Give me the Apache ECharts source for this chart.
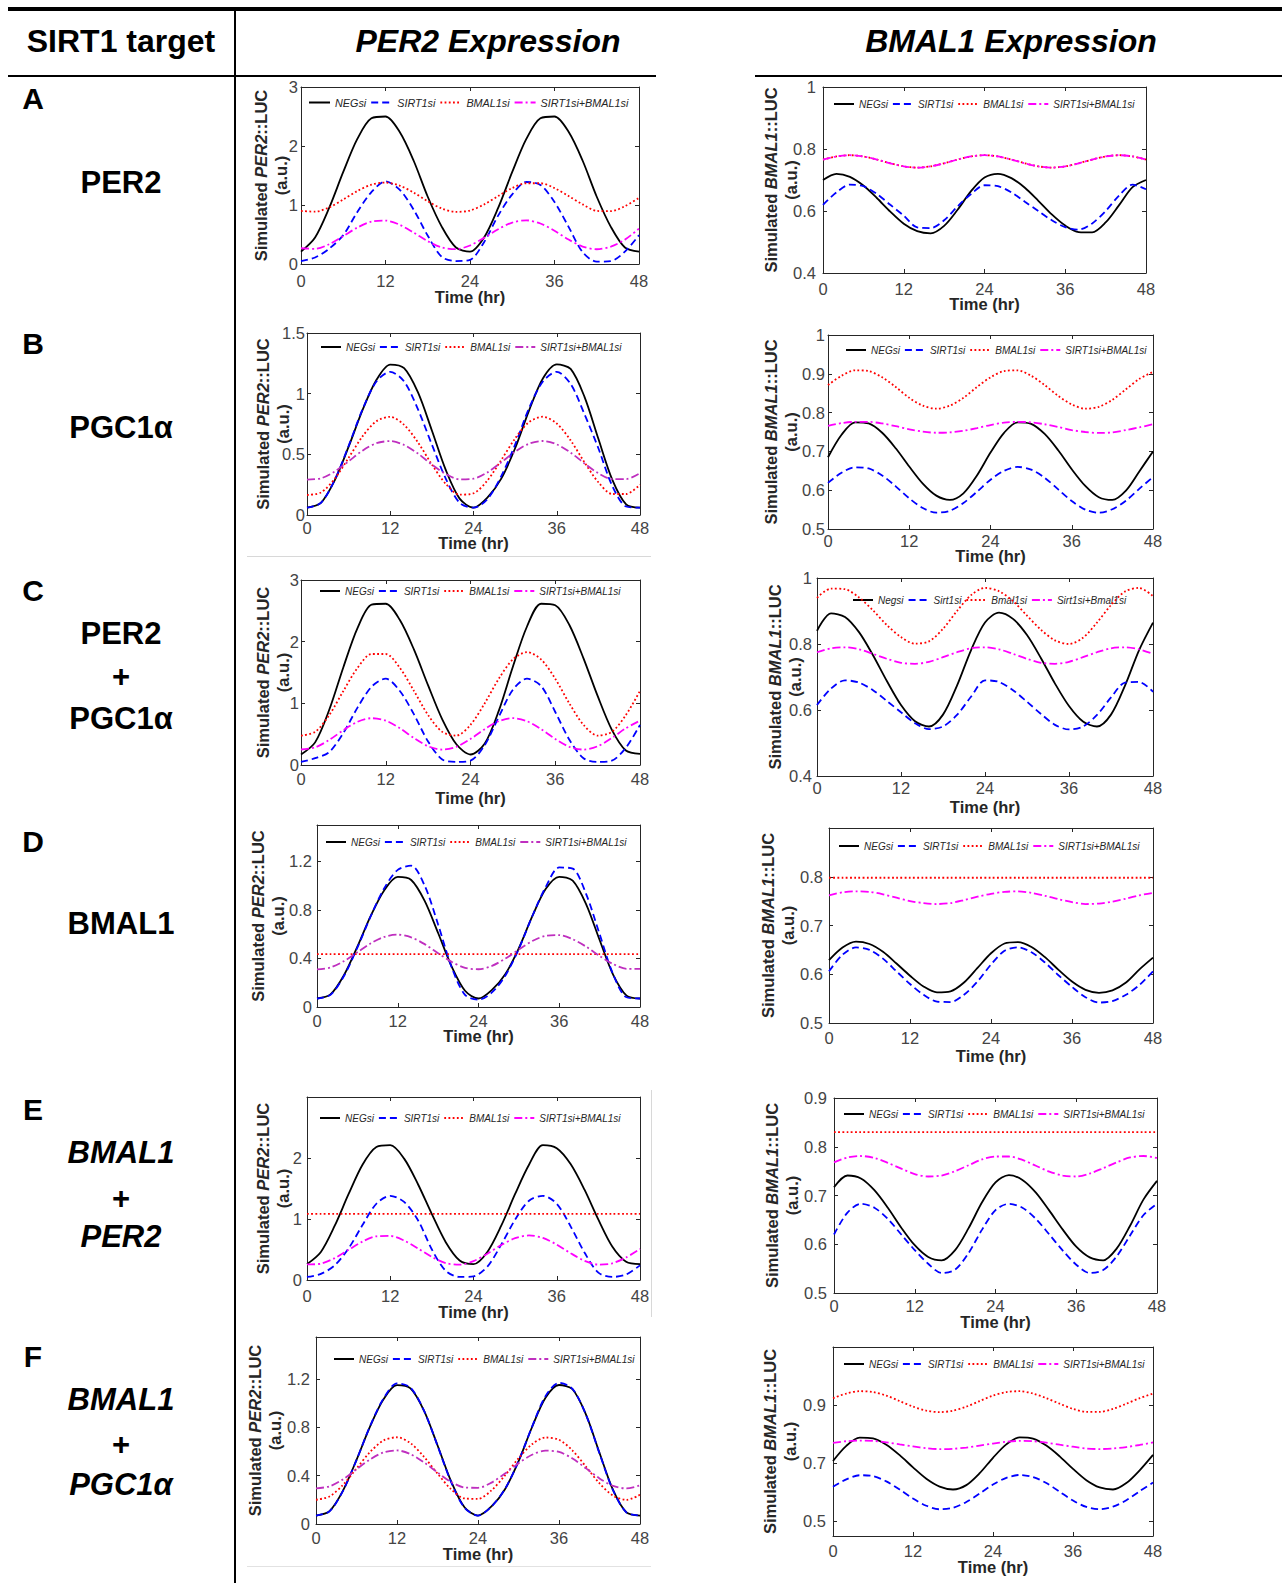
<!DOCTYPE html>
<html><head><meta charset="utf-8">
<script src="https://cdn.jsdelivr.net/npm/echarts@6/dist/echarts.min.js"></script>
<style>html,body{margin:0;padding:0;background:#fff}#c{width:1282px;height:1583px}</style>
</head><body><div id="c"></div><script>
// ---------- DATA ----------
const T = [0,2,4,6,8,10,12,14,16,18,20,22,24,26,28,30,32,34,36,38,40,42,44,46,48];
const X_TICKS = [0,12,24,36,48];
const LEG_STD = ['NEGsi','SIRT1si','BMAL1si','SIRT1si+BMAL1si'];
const LEG_C = ['Negsi','Sirt1si','Bmal1si','Sirt1si+Bmal1si'];
const HEADER = ['SIRT1 target','PER2 Expression','BMAL1 Expression'];
const ROW_LETTERS = ['A','B','C','D','E','F'];
const ROW_TARGETS = [['PER2'],['PGC1α'],['PER2','+','PGC1α'],['BMAL1'],['BMAL1','+','PER2'],['BMAL1','+','PGC1α']];

// Row A
const A_P_NEG  = [0.21,0.45,0.95,1.56,2.12,2.47,2.50,2.24,1.75,1.14,0.63,0.28,0.21,0.45,0.95,1.56,2.12,2.47,2.50,2.24,1.75,1.14,0.63,0.28,0.21];
const A_P_SIRT = [0.05,0.11,0.26,0.49,0.88,1.22,1.40,1.26,0.92,0.48,0.12,0.05,0.07,0.37,0.82,1.18,1.39,1.34,1.05,0.63,0.20,0.04,0.05,0.21,0.49];
const A_P_BMAL = [0.90,0.887,0.96,1.093,1.237,1.345,1.38,1.329,1.21,1.064,0.94,0.883,0.907,1.009,1.152,1.288,1.369,1.369,1.287,1.152,1.01,0.90,0.895,0.98,1.12];
const A_P_BOTH = [0.267,0.257,0.335,0.472,0.617,0.718,0.736,0.666,0.532,0.386,0.28,0.252,0.314,0.443,0.59,0.703,0.74,0.686,0.563,0.414,0.296,0.25,0.295,0.413,0.6];
const A_B_NEG  = [0.70,0.72,0.71,0.682,0.642,0.598,0.559,0.535,0.528,0.552,0.604,0.664,0.708,0.72,0.706,0.675,0.633,0.589,0.553,0.532,0.531,0.563,0.619,0.677,0.70];
const A_B_SIRT = [0.62,0.66,0.685,0.68,0.655,0.62,0.585,0.547,0.545,0.57,0.615,0.655,0.683,0.68,0.66,0.63,0.60,0.57,0.548,0.54,0.56,0.60,0.65,0.685,0.67];
const A_B_BMAL = [0.766,0.776,0.78,0.776,0.766,0.754,0.744,0.74,0.744,0.754,0.766,0.776,0.78,0.776,0.766,0.754,0.744,0.74,0.744,0.754,0.766,0.776,0.78,0.776,0.766];
const A_B_BOTH = [0.766,0.776,0.78,0.776,0.766,0.754,0.744,0.74,0.744,0.754,0.766,0.776,0.78,0.776,0.766,0.754,0.744,0.74,0.744,0.754,0.766,0.776,0.78,0.776,0.766];
// Row B
const B_P_NEG  = [0.06,0.10,0.286,0.563,0.864,1.112,1.24,1.21,1.01,0.697,0.372,0.135,0.06,0.143,0.30,0.55,0.86,1.125,1.241,1.204,0.974,0.628,0.292,0.088,0.06];
const B_P_SIRT = [0.06,0.10,0.29,0.57,0.87,1.10,1.18,1.10,0.87,0.58,0.30,0.10,0.06,0.13,0.32,0.58,0.88,1.10,1.18,1.08,0.83,0.55,0.24,0.07,0.06];
const B_P_BMAL = [0.165,0.185,0.299,0.471,0.648,0.773,0.809,0.743,0.598,0.416,0.257,0.168,0.179,0.284,0.453,0.631,0.765,0.81,0.754,0.615,0.434,0.27,0.173,0.173,0.25];
const B_P_BOTH = [0.292,0.302,0.358,0.443,0.53,0.592,0.609,0.577,0.506,0.416,0.338,0.294,0.299,0.351,0.434,0.522,0.588,0.61,0.582,0.514,0.425,0.344,0.296,0.296,0.345];
const B_B_NEG  = [0.685,0.743,0.775,0.772,0.748,0.708,0.661,0.617,0.586,0.575,0.592,0.638,0.697,0.748,0.775,0.771,0.745,0.703,0.654,0.611,0.582,0.575,0.599,0.649,0.70];
const B_B_SIRT = [0.619,0.645,0.659,0.656,0.638,0.61,0.579,0.554,0.542,0.547,0.567,0.596,0.627,0.65,0.66,0.653,0.632,0.602,0.572,0.55,0.542,0.551,0.573,0.604,0.634];
const B_B_BMAL = [0.871,0.895,0.909,0.907,0.891,0.866,0.838,0.818,0.81,0.818,0.838,0.866,0.891,0.907,0.909,0.895,0.871,0.843,0.821,0.81,0.815,0.833,0.86,0.887,0.905];
const B_B_BOTH = [0.766,0.773,0.776,0.776,0.772,0.765,0.757,0.751,0.748,0.749,0.753,0.76,0.768,0.774,0.776,0.775,0.77,0.763,0.755,0.75,0.7475,0.749,0.755,0.762,0.77];
// Row C
const C_P_NEG  = [0.17,0.367,0.895,1.586,2.22,2.6,2.615,2.35,1.87,1.29,0.74,0.336,0.17,0.343,0.877,1.593,2.246,2.615,2.59,2.27,1.73,1.12,0.575,0.235,0.18];
const C_P_SIRT = [0.05,0.11,0.21,0.52,0.93,1.27,1.40,1.20,0.82,0.38,0.09,0.05,0.07,0.32,0.78,1.22,1.40,1.28,0.86,0.41,0.11,0.05,0.07,0.28,0.65];
const C_P_BMAL = [0.477,0.537,0.81,1.201,1.574,1.80,1.80,1.574,1.201,0.81,0.537,0.477,0.652,0.998,1.398,1.712,1.83,1.712,1.398,0.998,0.652,0.477,0.537,0.81,1.201];
const C_P_BOTH = [0.251,0.286,0.406,0.565,0.70,0.759,0.719,0.596,0.437,0.304,0.25,0.295,0.422,0.581,0.71,0.76,0.71,0.581,0.422,0.295,0.25,0.304,0.437,0.596,0.719];
const C_B_NEG  = [0.84,0.893,0.882,0.836,0.766,0.687,0.615,0.566,0.55,0.586,0.674,0.781,0.865,0.895,0.876,0.827,0.757,0.68,0.612,0.565,0.55,0.586,0.674,0.781,0.865];
const C_B_SIRT = [0.615,0.665,0.69,0.683,0.66,0.627,0.593,0.56,0.542,0.55,0.585,0.64,0.69,0.685,0.66,0.625,0.588,0.555,0.541,0.55,0.585,0.638,0.683,0.685,0.655];
const C_B_BMAL = [0.94,0.968,0.966,0.941,0.902,0.857,0.821,0.801,0.808,0.846,0.90,0.948,0.97,0.96,0.93,0.886,0.843,0.811,0.80,0.819,0.865,0.918,0.959,0.97,0.945];
const C_B_BOTH = [0.775,0.787,0.79,0.784,0.77,0.755,0.743,0.74,0.746,0.76,0.775,0.787,0.79,0.784,0.77,0.755,0.743,0.74,0.746,0.76,0.775,0.787,0.79,0.784,0.77];
// Row D
const D_P_NEG  = [0.07,0.104,0.262,0.497,0.753,0.963,1.072,1.047,0.875,0.61,0.335,0.134,0.07,0.141,0.272,0.486,0.749,0.974,1.073,1.041,0.846,0.552,0.267,0.094,0.07];
const D_P_SIRT = [0.07,0.10,0.255,0.49,0.75,0.98,1.13,1.165,1.0,0.68,0.33,0.10,0.06,0.12,0.26,0.48,0.75,0.99,1.15,1.14,0.93,0.60,0.27,0.08,0.07];
const D_P_BMAL = [0.435,0.435,0.435,0.435,0.435,0.435,0.435,0.435,0.435,0.435,0.435,0.435,0.435,0.435,0.435,0.435,0.435,0.435,0.435,0.435,0.435,0.435,0.435,0.435,0.435];
const D_P_BOTH = [0.31,0.326,0.378,0.451,0.525,0.578,0.596,0.574,0.518,0.443,0.372,0.323,0.311,0.339,0.399,0.474,0.544,0.587,0.593,0.559,0.497,0.421,0.354,0.315,0.315];
const D_B_NEG  = [0.629,0.655,0.667,0.662,0.646,0.622,0.597,0.575,0.563,0.565,0.583,0.613,0.643,0.663,0.666,0.656,0.635,0.609,0.585,0.568,0.562,0.567,0.583,0.61,0.634];
const D_B_SIRT = [0.606,0.64,0.655,0.65,0.632,0.606,0.58,0.558,0.544,0.543,0.558,0.585,0.62,0.648,0.655,0.645,0.624,0.598,0.574,0.553,0.542,0.545,0.558,0.578,0.606];
const D_B_BMAL = [0.798,0.798,0.798,0.798,0.798,0.798,0.798,0.798,0.798,0.798,0.798,0.798,0.798,0.798,0.798,0.798,0.798,0.798,0.798,0.798,0.798,0.798,0.798,0.798,0.798];
const D_B_BOTH = [0.762,0.768,0.77,0.769,0.764,0.757,0.75,0.746,0.744,0.746,0.752,0.759,0.765,0.769,0.77,0.767,0.761,0.754,0.748,0.744,0.745,0.749,0.755,0.762,0.767];
// Row E
const E_P_NEG  = [0.26,0.46,0.89,1.41,1.89,2.18,2.21,1.99,1.57,1.08,0.62,0.32,0.26,0.46,0.89,1.41,1.89,2.21,2.16,1.90,1.48,0.99,0.55,0.30,0.26];
const E_P_SIRT = [0.05,0.10,0.24,0.52,0.90,1.25,1.38,1.28,0.98,0.50,0.15,0.05,0.06,0.22,0.58,0.99,1.30,1.38,1.25,0.88,0.45,0.12,0.05,0.09,0.24];
const E_P_BMAL = [1.085,1.085,1.085,1.085,1.085,1.085,1.085,1.085,1.085,1.085,1.085,1.085,1.085,1.085,1.085,1.085,1.085,1.085,1.085,1.085,1.085,1.085,1.085,1.085,1.085];
const E_P_BOTH = [0.255,0.268,0.359,0.495,0.63,0.716,0.722,0.647,0.517,0.378,0.277,0.252,0.31,0.431,0.573,0.685,0.73,0.69,0.58,0.439,0.315,0.253,0.274,0.37,0.509];
const E_B_NEG  = [0.717,0.741,0.735,0.711,0.675,0.634,0.598,0.574,0.567,0.588,0.633,0.686,0.727,0.742,0.732,0.706,0.669,0.63,0.595,0.573,0.567,0.591,0.638,0.692,0.73];
const E_B_SIRT = [0.62,0.665,0.683,0.675,0.652,0.62,0.588,0.56,0.541,0.548,0.582,0.63,0.67,0.683,0.675,0.652,0.62,0.587,0.558,0.541,0.547,0.575,0.618,0.66,0.683];
const E_B_BMAL = [0.83,0.83,0.83,0.83,0.83,0.83,0.83,0.83,0.83,0.83,0.83,0.83,0.83,0.83,0.83,0.83,0.83,0.83,0.83,0.83,0.83,0.83,0.83,0.83,0.83];
const E_B_BOTH = [0.768,0.778,0.781,0.777,0.767,0.755,0.744,0.739,0.741,0.75,0.762,0.774,0.78,0.78,0.773,0.761,0.749,0.741,0.739,0.745,0.756,0.768,0.778,0.781,0.777];
// Row F
const F_P_NEG  = [0.07,0.107,0.277,0.531,0.807,1.034,1.151,1.124,0.939,0.653,0.356,0.139,0.07,0.146,0.288,0.519,0.802,1.046,1.152,1.117,0.907,0.59,0.283,0.096,0.07];
const F_P_SIRT = [0.07,0.105,0.275,0.53,0.81,1.04,1.165,1.13,0.94,0.65,0.35,0.135,0.07,0.145,0.29,0.52,0.805,1.06,1.17,1.12,0.905,0.585,0.28,0.095,0.07];
const F_P_BMAL = [0.201,0.228,0.324,0.46,0.596,0.692,0.719,0.67,0.557,0.418,0.289,0.212,0.208,0.279,0.403,0.544,0.661,0.717,0.698,0.609,0.475,0.337,0.235,0.2,0.242];
const F_P_BOTH = [0.295,0.312,0.37,0.453,0.535,0.593,0.61,0.579,0.511,0.427,0.349,0.303,0.3,0.343,0.418,0.504,0.574,0.608,0.597,0.543,0.461,0.378,0.316,0.295,0.32];
const F_B_NEG  = [0.708,0.76,0.788,0.786,0.764,0.728,0.686,0.647,0.62,0.61,0.625,0.666,0.719,0.765,0.789,0.785,0.761,0.724,0.681,0.642,0.617,0.61,0.632,0.676,0.729];
const F_B_SIRT = [0.619,0.645,0.659,0.656,0.638,0.61,0.579,0.554,0.542,0.547,0.567,0.596,0.627,0.65,0.66,0.653,0.632,0.602,0.572,0.55,0.542,0.551,0.573,0.604,0.634];
const F_B_BMAL = [0.924,0.94,0.948,0.945,0.933,0.914,0.895,0.881,0.876,0.881,0.895,0.914,0.933,0.945,0.948,0.94,0.924,0.905,0.887,0.877,0.877,0.887,0.905,0.924,0.94];
const F_B_BOTH = [0.77,0.776,0.778,0.777,0.772,0.765,0.758,0.752,0.749,0.75,0.754,0.761,0.768,0.774,0.777,0.776,0.771,0.764,0.757,0.751,0.749,0.751,0.756,0.763,0.772];

// y tick labels per panel
const Y_TICKS_PER2_3   = [0,1,2,3];
const Y_TICKS_PER2_15  = [0,0.5,1,1.5];
const Y_TICKS_PER2_04  = [0,0.4,0.8,1.2];
const Y_TICKS_PER2_E   = [0,1,2];
const Y_TICKS_BMAL_A   = [0.4,0.6,0.8,1];
const Y_TICKS_BMAL_B   = [0.5,0.6,0.7,0.8,0.9,1];
const Y_TICKS_BMAL_D   = [0.5,0.6,0.7,0.8];
const Y_TICKS_BMAL_E   = [0.5,0.6,0.7,0.8,0.9];
const Y_TICKS_BMAL_F   = [0.5,0.7,0.9];

const PANELS = [
  {gene:'PER2',  labels:LEG_STD, yMin:0,   yMax:3,   yTicks:Y_TICKS_PER2_3,  data:[A_P_NEG,A_P_SIRT,A_P_BMAL,A_P_BOTH]},
  {gene:'BMAL1', labels:LEG_STD, yMin:0.4, yMax:1,   yTicks:Y_TICKS_BMAL_A,  data:[A_B_NEG,A_B_SIRT,A_B_BMAL,A_B_BOTH]},
  {gene:'PER2',  labels:LEG_STD, yMin:0,   yMax:1.5, yTicks:Y_TICKS_PER2_15, data:[B_P_NEG,B_P_SIRT,B_P_BMAL,B_P_BOTH]},
  {gene:'BMAL1', labels:LEG_STD, yMin:0.5, yMax:1,   yTicks:Y_TICKS_BMAL_B,  data:[B_B_NEG,B_B_SIRT,B_B_BMAL,B_B_BOTH]},
  {gene:'PER2',  labels:LEG_STD, yMin:0,   yMax:3,   yTicks:Y_TICKS_PER2_3,  data:[C_P_NEG,C_P_SIRT,C_P_BMAL,C_P_BOTH]},
  {gene:'BMAL1', labels:LEG_C,   yMin:0.4, yMax:1,   yTicks:Y_TICKS_BMAL_A,  data:[C_B_NEG,C_B_SIRT,C_B_BMAL,C_B_BOTH]},
  {gene:'PER2',  labels:LEG_STD, yMin:0,   yMax:1.5, yTicks:Y_TICKS_PER2_04, data:[D_P_NEG,D_P_SIRT,D_P_BMAL,D_P_BOTH]},
  {gene:'BMAL1', labels:LEG_STD, yMin:0.5, yMax:0.9, yTicks:Y_TICKS_BMAL_D,  data:[D_B_NEG,D_B_SIRT,D_B_BMAL,D_B_BOTH]},
  {gene:'PER2',  labels:LEG_STD, yMin:0,   yMax:3,   yTicks:Y_TICKS_PER2_E,  data:[E_P_NEG,E_P_SIRT,E_P_BMAL,E_P_BOTH]},
  {gene:'BMAL1', labels:LEG_STD, yMin:0.5, yMax:0.9, yTicks:Y_TICKS_BMAL_E,  data:[E_B_NEG,E_B_SIRT,E_B_BMAL,E_B_BOTH]},
  {gene:'PER2',  labels:LEG_STD, yMin:0,   yMax:1.55,yTicks:Y_TICKS_PER2_04, data:[F_P_NEG,F_P_SIRT,F_P_BMAL,F_P_BOTH]},
  {gene:'BMAL1', labels:LEG_STD, yMin:0.45,yMax:1.1, yTicks:Y_TICKS_BMAL_F,  data:[F_B_NEG,F_B_SIRT,F_B_BMAL,F_B_BOTH]}
];

// ---------- LAYOUT & STYLE ----------
const LAYOUT = [
 {l:301,t:87,  r:639, b:264,  yGap:10, xGap:24, xM:8, yM:3, legL:305, legT:95,   legF:10.8, legW:21, both:'#ff00ff'},
 {l:823,t:87,  r:1146,b:273,  yGap:22, xGap:22, xM:7, yM:7, legL:830, legT:97,   legF:10,   legW:20, both:'#ff00ff'},
 {l:307,t:333, r:640, b:515,  yGap:14, xGap:19, xM:4, yM:2, legL:317, legT:340,  legF:10,   legW:20, both:'#bf2fbf'},
 {l:828,t:335, r:1153,b:529,  yGap:27, xGap:18, xM:3, yM:3, legL:842, legT:343,  legF:10,   legW:20, both:'#ff00ff'},
 {l:301,t:580, r:640, b:765,  yGap:8,  xGap:24, xM:5, yM:2, legL:316, legT:584,  legF:10,   legW:20, both:'#ff00ff'},
 {l:817,t:578, r:1153,b:776,  yGap:12, xGap:22, xM:3, yM:5, legL:849, legT:593,  legF:10,   legW:20, both:'#ff00ff'},
 {l:317,t:825, r:640, b:1007, yGap:29, xGap:20, xM:5, yM:5, legL:322, legT:835,  legF:10,   legW:20, both:'#bf2fbf'},
 {l:829,t:828, r:1153,b:1023, yGap:31, xGap:24, xM:6, yM:6, legL:835, legT:839,  legF:10,   legW:20, both:'#ff00ff'},
 {l:307,t:1097,r:640, b:1280, yGap:14, xGap:23, xM:7, yM:5, legL:316, legT:1111, legF:10,   legW:20, both:'#ff00ff'},
 {l:834,t:1098,r:1157,b:1293, yGap:32, xGap:20, xM:4, yM:7, legL:840, legT:1107, legF:10,   legW:20, both:'#ff00ff'},
 {l:316,t:1337,r:640, b:1524, yGap:31, xGap:21, xM:5, yM:6, legL:330, legT:1352, legF:10,   legW:20, both:'#bf2fbf'},
 {l:833,t:1347,r:1153,b:1536, yGap:33, xGap:22, xM:6, yM:7, legL:840, legT:1357, legF:10,   legW:20, both:'#ff00ff'}
];
const FONT = '"Liberation Sans", Arial, Helvetica, sans-serif';
const AXIS_COLOR = '#262626', LABEL_COLOR = '#444444', NAME_COLOR = '#262626';
const LINE_STYLES = [
  {color:'#000000', type:'solid', width:1.8},
  {color:'#0000ff', type:[7,4], width:1.8},
  {color:'#ff0000', type:[1.8,2.4], width:1.8},
  {color:'#ff00ff', type:[8,3,2,3], width:1.8}
];

const grid=[], xAxis=[], yAxis=[], series=[], legend=[];
PANELS.forEach((p,g)=>{
  const L = LAYOUT[g];
  grid.push({left:L.l, top:L.t, width:L.r-L.l, height:L.b-L.t, containLabel:false, outerBoundsMode:'none', show:false});
  const axisLine = {show:true, onZero:false, lineStyle:{color:AXIS_COLOR, width:1}};
  const tick = {show:true, inside:true, length:4, lineStyle:{color:AXIS_COLOR, width:1}};
  xAxis.push({type:'value', gridIndex:g, position:'bottom', min:X_TICKS[0], max:X_TICKS[X_TICKS.length-1], interval:12,
    axisLine, axisTick:tick, splitLine:{show:false},
    axisLabel:{fontSize:16.5, color:LABEL_COLOR, margin:L.xM, fontFamily:FONT},
    name:'Time (hr)', nameLocation:'middle', nameGap:L.xGap, nameMoveOverlap:false,
    nameTextStyle:{fontSize:16.5, fontWeight:'bold', color:NAME_COLOR, fontFamily:FONT}});
  xAxis.push({type:'value', gridIndex:g, position:'top', min:X_TICKS[0], max:X_TICKS[X_TICKS.length-1], interval:12,
    axisLine, axisTick:tick, splitLine:{show:false}, axisLabel:{show:false}});
  yAxis.push({type:'value', gridIndex:g, position:'left', min:p.yMin, max:p.yMax,
    axisLine, axisTick:Object.assign({}, tick, {customValues:p.yTicks}), splitLine:{show:false},
    axisLabel:{customValues:p.yTicks, fontSize:16.5, color:LABEL_COLOR, margin:L.yM, fontFamily:FONT},
    name:'Simulated {i|' + p.gene + '}::LUC\n(a.u.)', nameLocation:'middle', nameGap:L.yGap, nameRotate:90, nameMoveOverlap:false,
    nameTextStyle:{fontSize:16.5, fontWeight:'bold', color:NAME_COLOR, fontFamily:FONT, lineHeight:20, align:'center',
      rich:{i:{fontSize:16.5, fontWeight:'bold', fontStyle:'italic', color:NAME_COLOR, fontFamily:FONT, lineHeight:20}}}});
  yAxis.push({type:'value', gridIndex:g, position:'right', min:p.yMin, max:p.yMax,
    axisLine, axisTick:Object.assign({}, tick, {customValues:p.yTicks}), splitLine:{show:false},
    axisLabel:{show:false, customValues:p.yTicks}});
  const names = [];
  p.data.forEach((arr,k)=>{
    const st = LINE_STYLES[k];
    const color = k===3 ? L.both : st.color;
    const nm = p.labels[k] + '#' + g;
    names.push(nm);
    series.push({type:'line', name:nm, xAxisIndex:2*g, yAxisIndex:2*g,
      data:T.map((t,i)=>[t, arr[i]]), symbol:'none', smooth:0.3,
      lineStyle:{color, width:st.width, type:st.type}, itemStyle:{color},
      emphasis:{disabled:true}, z:2+k, silent:true});
  });
  legend.push({id:'lg'+g, data:names, left:L.legL, top:L.legT, orient:'horizontal',
    itemWidth:L.legW, itemHeight:10, itemGap:4, padding:[2,3], backgroundColor:'#ffffff',
    selectedMode:false, formatter:(n)=>n.split('#')[0],
    itemStyle:{color:'rgba(0,0,0,0)', borderWidth:0},
    textStyle:{fontSize:L.legF, fontStyle:'italic', color:'#262626', fontFamily:FONT}});
});

// ---------- TABLE GRAPHICS ----------
const TBL = {
  headerY:41, headerX:[121,488,1011],
  letterX:33, letterY:[98,343,590,841,1109,1356],
  targetX:121, targetY:[[182],[427],[633,676,718],[923],[1152,1198,1236],[1399,1444,1484]],
  italicRows:[4,5]
};
const graphic = [];
graphic.push({type:'rect', shape:{x:8,y:7,width:1274,height:4}, style:{fill:'#000'}, z:100});
graphic.push({type:'rect', shape:{x:8,y:75,width:648,height:2}, style:{fill:'#000'}, z:100});
graphic.push({type:'rect', shape:{x:755,y:75,width:527,height:2}, style:{fill:'#000'}, z:100});
graphic.push({type:'rect', shape:{x:234,y:9,width:2,height:1574}, style:{fill:'#000'}, z:100});
graphic.push({type:'rect', shape:{x:247,y:556,width:404,height:1}, style:{fill:'#d8d8d8'}, z:1});
graphic.push({type:'rect', shape:{x:651,y:1090,width:1,height:227}, style:{fill:'#d8d8d8'}, z:1});
graphic.push({type:'rect', shape:{x:247,y:1566,width:404,height:1}, style:{fill:'#e2e2e2'}, z:1});
HEADER.forEach((h,i)=>{
  graphic.push({type:'text', x:TBL.headerX[i], y:TBL.headerY, z:100,
    style:{text:h, fontSize:32, fontWeight:'bold', fontStyle:i>0?'italic':'normal', fontFamily:FONT,
      fill:'#000', align:'center', verticalAlign:'middle'}});
});
ROW_LETTERS.forEach((ltr,r)=>{
  graphic.push({type:'text', x:TBL.letterX, y:TBL.letterY[r], z:100,
    style:{text:ltr, fontSize:30, fontWeight:'bold', fontFamily:FONT, fill:'#000', align:'center', verticalAlign:'middle'}});
  ROW_TARGETS[r].forEach((s,j)=>{
    const it = TBL.italicRows.indexOf(r)>=0 && s!=='+';
    graphic.push({type:'text', x:TBL.targetX, y:TBL.targetY[r][j], z:100,
      style:{text:s, fontSize:31, fontWeight:'bold', fontStyle:it?'italic':'normal', fontFamily:FONT,
        fill:'#000', align:'center', verticalAlign:'middle'}});
  });
});

const chart = echarts.init(document.getElementById('c'), null, {renderer:'svg', width:1282, height:1583});
chart.setOption({animation:false, backgroundColor:'#fff', textStyle:{fontFamily:FONT},
  grid, xAxis, yAxis, series, legend, graphic});
</script></body></html>
